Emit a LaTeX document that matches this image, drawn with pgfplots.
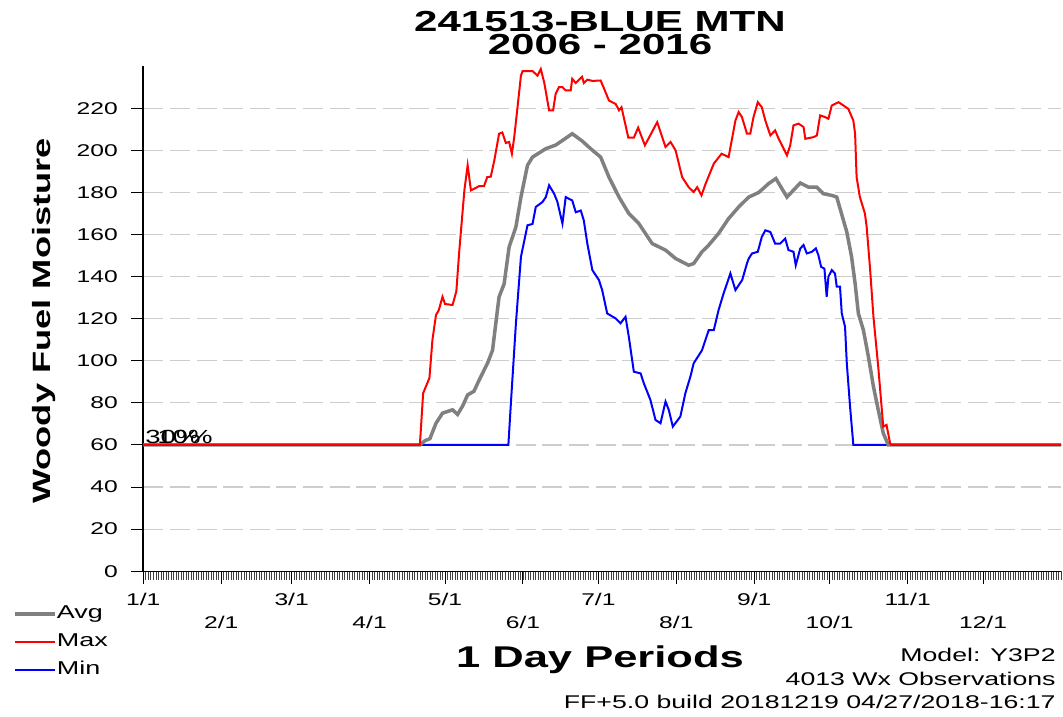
\documentclass[border=0pt]{standalone}
\usepackage{fontspec}
\setmainfont{Liberation Sans}[FakeStretch=1.45]
\usepackage{pgfplots}
\pgfplotsset{compat=1.18}
\definecolor{gridgray}{RGB}{205,205,205}
\definecolor{avggray}{RGB}{128,128,128}

\begin{document}
\begin{tikzpicture}
\useasboundingbox (-71.65pt,-72.4pt) rectangle (459.85pt,285.6pt);
\begin{axis}[
  at={(0pt,0pt)}, anchor=origin,
  scale only axis, width=458.85pt, height=252.5pt,
  xmin=0, xmax=365, ymin=0, ymax=240,
  clip=false,
  axis lines*=left, axis line style={-},
  x axis line style={line width=0.6pt},
  y axis line style={line width=1.1pt},
  ytick={0,20,...,220},
  xtick={0,59,120,181,243,304},
  xticklabels={1/1,3/1,5/1,7/1,9/1,11/1},
  extra x ticks={31,90,151,212,273,334},
  extra x tick labels={2/1,4/1,6/1,8/1,10/1,12/1},
  extra x tick style={xticklabel style={yshift=-11.5pt}},
  minor xtick={0,1,...,365},
  tick align=outside,
  major tick length=6.25pt, minor tick length=4.5pt,
  tick style={black, line width=0.5pt},
  minor tick style={black!75, line width=0.35pt},
  ymajorgrids,
  grid style={gridgray, line width=0.6pt, dash pattern=on 10pt off 3.3pt},
  tick label style={font=\fontsize{8.5pt}{10pt}\selectfont},
  yticklabel style={xshift=-3pt},
  xticklabel style={yshift=-1pt},
  /pgf/number format/assume math mode=true,
  legend style={at={(-0.142,-0.066)}, anchor=north west, draw=none, fill=none,
    inner sep=0pt, row sep=5pt, column sep=0pt,
    font=\fontsize{9.3pt}{11pt}\selectfont,
    nodes={inner sep=0pt, text height=7pt, text depth=2pt}},
  legend cell align=left,
  legend image code/.code={\draw[#1] (0pt,0pt) -- (20pt,0pt);},
]
% Min
\addplot[blue, line width=1pt, forget plot] coordinates {
(0,60) (145.2,60) (146.2,79.8) (148.2,117.8) (150.2,149.4) (152.8,164.4) (154.8,165)
(156.1,173.1) (158.8,175.5) (160.1,177.8) (161.4,183.4) (163.4,179.4) (164.7,175.5)
(166.7,165.2) (168,177.8) (170.6,176.2) (172,170.6) (174,171.4) (175.2,166.7)
(176.6,155.7) (178.6,143.1) (181.2,138.4) (182.5,133.6) (184.5,122.5) (187.9,120.1)
(189.8,117.8) (191.8,120.9) (193.1,111.4) (195.1,94.8) (197.8,94) (199.1,89.2)
(201.7,81.4) (203.7,71.9) (205.7,70.3) (207.7,80.6) (209,76.7) (210.6,68.7)
(213.6,73.5) (215.6,84.6) (217.6,92.5) (218.9,98.8) (222.2,105) (224.9,114.6)
(226.9,114.6) (228.8,124.1) (230.8,132) (233.5,141.5) (235.5,133.6) (238.2,138.4)
(240.1,146.3) (240.8,148.6) (242.1,151) (244.4,151.8) (246,158.9) (247.4,162)
(249.4,161.2) (251.3,155.7) (253.3,155.7) (255.3,158.1) (256.6,152.6) (258.6,151.8)
(259.5,145.4) (261.3,153.4) (262.6,155) (263.9,151) (265.9,151.8) (267.5,153.4)
(268.5,150.2) (269.6,144.6) (270.9,143.8) (271.8,130.4) (272.5,140) (273.8,143.1)
(275.1,141.5) (275.8,135.2) (277.1,135.2) (277.8,122.5) (279.1,116.2) (279.8,98.8)
(281.1,78.2) (282.4,60) (365,60)
};
% Avg
\addplot[avggray, line width=1.75pt, forget plot] coordinates {
(0,60) (110,60) (112,62) (114,63) (116.4,70.3) (119,75.1) (123,76.7) (125,74.5)
(127,78.5) (129,83.8) (131.5,85.5) (133.6,90.9) (136.9,98.8) (138.9,105) (140.2,117.8)
(141.5,130.4) (143.5,136.5) (145.5,154.1) (148.2,163.6) (150.2,177.8) (152.8,192.9)
(154.8,196.8) (160.1,200.8) (164,202.5) (166.7,204.7) (170.6,207.9) (174.5,204.5)
(177.9,200.8) (181.9,196.8) (185.2,187.3) (189.2,177.8) (193.1,170) (197.1,165.2)
(202.4,155.7) (207.7,152.6) (211.7,148.6) (216.9,145.4) (218.9,146.2) (222.2,151.8)
(224.9,155) (228.8,160.5) (232.8,167.6) (236.8,173.1) (240.8,177.8) (244.8,180)
(248.7,184.2) (251.6,186.6) (256,177.8) (261.3,184.5) (264.6,182.5) (267.9,182.5)
(270.5,179.4) (273.8,178.6) (275.8,177.8) (277.8,169.5) (279.8,161.2) (281.7,149.4)
(283.1,136.8) (284.4,122.5) (286.4,114.6) (288.4,101.9) (290.4,87.7) (292.3,76.7)
(294.3,65.6) (296.3,60) (365,60)
};
% Max
\addplot[red, line width=1pt, forget plot] coordinates {
(0,60) (110,60) (111.3,84.6) (113.8,91.8) (115,110) (116.4,121.7) (117.5,124)
(119,130.4) (120,127) (123,126.5) (124.5,133) (125.7,152.6) (127.7,181) (129,192.9)
(130.3,181) (133.6,183) (135.5,183) (136.8,187.3) (138.2,187.5) (139.6,195.2)
(141.5,207.9) (142.8,208.5) (144.2,203.5) (145.5,204) (146.6,198.4) (147.5,206)
(148.7,219) (150.2,235.6) (150.9,237.7) (154.8,237.7) (156.8,235.5) (158.1,238.7)
(159.5,232) (161.4,219) (163,219) (164,226.9) (165.3,230) (166.7,230) (168,228.5)
(170,228.5) (170.6,234) (172,232) (174.5,235) (175.2,232) (176.6,233.6) (178.6,233)
(181.9,233.2) (183.2,229.5) (185.2,223.7) (187.9,222) (189.2,219) (190.2,220.5)
(192.9,206) (195.1,206) (196.8,210.8) (199.5,202.4) (201.1,206) (204.4,213.4)
(207.7,201.6) (209.7,204) (211.7,200) (214.3,187.3) (216.9,182.5) (218.9,180.2)
(220.3,182.5) (222,178.6) (223.6,184) (226.9,193.7) (230,198.4) (232.8,196.8)
(235.5,214.2) (236.8,218.2) (238.1,215.8) (240.1,207.9) (241.4,207.9) (242.7,215.8)
(244.4,222.9) (246,220.5) (247.4,214.2) (249.4,207.1) (251.3,209.5) (252.7,205.5)
(256,197.6) (257.3,202.4) (258.6,211.9) (260.6,212.7) (262.6,211.1) (263.3,205.5)
(266.6,206.3) (267.9,207.1) (269.2,216.6) (271.2,215.8) (272.5,215) (273.8,221.3)
(276.5,222.9) (278.5,221.3) (280.4,219.7) (282.4,214.2) (283.1,207.9) (283.7,187.3)
(285,177.8) (287,170) (287.7,163.6) (289,144.6) (290.4,120.9) (292.3,97.2)
(294.3,68.7) (295.6,69.5) (297,60.9) (297.5,60) (365,60)
};
\addlegendimage{avggray, line width=1.75pt}\addlegendentry{Avg}
\addlegendimage{red, line width=1pt}\addlegendentry{Max}
\addlegendimage{blue, line width=1pt}\addlegendentry{Min}
\end{axis}
% labels and annotations
\node[anchor=base, font=\bfseries\fontsize{14.5pt}{16pt}\selectfont] at (228.35pt,269.75pt) {241513-BLUE MTN};
\node[anchor=base, font=\bfseries\fontsize{14.5pt}{16pt}\selectfont] at (228.35pt,258.1pt) {2006 - 2016};
\node[rotate=90, font=\bfseries\fontsize{12.5pt}{14pt}\selectfont] at (-49.65pt,125.1pt) {Woody Fuel Moisture};
\node[anchor=base, font=\bfseries\fontsize{15pt}{17pt}\selectfont] at (228.35pt,-47.9pt) {1 Day Periods};
\node[anchor=base west, inner sep=0pt, font=\fontsize{9.5pt}{11pt}\selectfont] at (0.85pt,63.95pt) {30\%};
\node[anchor=base west, inner sep=0pt, font=\fontsize{9.5pt}{11pt}\selectfont] at (6.85pt,63.95pt) {10\%};
\node[anchor=base east, inner sep=0pt, font=\fontsize{9.2pt}{11pt}\selectfont] at (456.35pt,-45.25pt) {Model: Y3P2};
\node[anchor=base east, inner sep=0pt, font=\fontsize{9.2pt}{11pt}\selectfont] at (456.35pt,-56.9pt) {4013 Wx Observations};
\node[anchor=base east, inner sep=0pt, font=\fontsize{9.2pt}{11pt}\selectfont] at (456.35pt,-68.4pt) {FF+5.0 build 20181219 04/27/2018-16:17};
\end{tikzpicture}
\end{document}
